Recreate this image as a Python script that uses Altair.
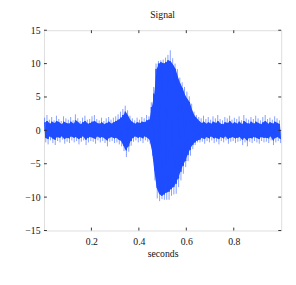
import altair as alt
import pandas as pd

# bin centres (seconds) of the read-off envelope, 10 ms apart
seconds = [round(0.005 + 0.01 * i, 3) for i in range(100)]

# solid core of the trace (upper / lower edge per bin)
core_hi = [
    1.2, 1.4, 1.0, 1.3, 1.1, 1.4, 1.2, 0.9, 1.3, 1.1,
    1.0, 1.3, 1.0, 1.5, 1.2, 0.9, 1.2, 1.4, 1.0, 1.1,
    1.3, 1.4, 1.1, 1.0, 1.2, 0.9, 1.1, 1.3, 1.0, 1.2,
    1.4, 1.6, 1.9, 2.3, 2.8, 2.2, 1.5, 1.2, 1.0, 1.2,
    1.1, 1.3, 1.2, 1.5, 1.6, 3.5, 5.5, 9.2, 10.0, 10.2,
    10.0, 10.2, 10.5, 10.3, 9.8, 9.2, 8.0, 7.0, 6.3, 5.3,
    4.7, 4.2, 3.0, 2.2, 1.8, 1.4, 1.1, 1.3, 1.0, 1.2,
    1.0, 1.3, 1.1, 1.4, 1.0, 0.9, 1.2, 1.1, 1.4, 1.0,
    1.2, 1.0, 1.3, 0.9, 1.4, 1.1, 1.0, 1.3, 1.0, 1.3,
    1.1, 0.9, 1.2, 1.4, 1.0, 1.2, 1.0, 1.3, 1.1, 0.9,
]
core_lo = [
    -1.1, -1.3, -0.9, -1.2, -1.4, -1.0, -1.1, -0.9, -1.3, -1.1,
    -1.2, -0.9, -1.1, -1.0, -1.3, -1.1, -0.9, -1.4, -1.1, -1.0,
    -1.1, -1.3, -0.9, -1.1, -1.0, -1.2, -1.5, -1.1, -1.0, -1.2,
    -1.1, -1.4, -1.6, -2.3, -3.0, -2.4, -1.6, -1.1, -0.9, -1.1,
    -1.0, -1.2, -0.9, -1.1, -1.4, -3.0, -6.0, -8.6, -9.5, -9.8,
    -9.6, -9.3, -9.2, -8.8, -8.5, -8.0, -7.2, -6.2, -5.3, -4.6,
    -3.7, -2.9, -2.2, -1.8, -1.5, -1.4, -1.1, -1.3, -1.0, -1.2,
    -0.9, -1.2, -1.1, -1.3, -1.0, -1.2, -0.9, -1.3, -1.1, -1.0,
    -1.2, -1.1, -1.0, -1.4, -1.1, -1.5, -1.1, -1.2, -1.0, -1.1,
    -1.3, -1.0, -1.1, -1.1, -1.2, -0.9, -1.5, -1.1, -1.0, -1.3,
]

# tips of the thin spikes (highest / lowest sample per bin)
tip_hi = [
    1.9, 2.3, 1.6, 2.0, 1.5, 2.2, 1.7, 1.4, 2.1, 1.8,
    1.6, 2.0, 1.5, 2.4, 1.8, 1.4, 1.9, 2.2, 1.6, 1.7,
    2.1, 2.3, 1.7, 1.5, 1.9, 1.4, 1.8, 2.0, 1.6, 1.9,
    2.1, 2.4, 2.8, 3.2, 3.7, 3.0, 2.2, 1.8, 1.5, 1.9,
    1.6, 2.0, 1.8, 2.3, 2.1, 4.2, 6.5, 10.0, 10.4, 10.5,
    10.6, 10.9, 11.3, 12.0, 10.8, 10.0, 9.2, 7.9, 7.2, 6.5,
    5.8, 5.1, 4.0, 2.8, 2.3, 2.0, 1.8, 2.2, 1.7, 2.0,
    1.6, 2.1, 1.8, 2.3, 1.7, 1.5, 2.0, 1.8, 2.2, 1.6,
    1.9, 1.7, 2.1, 1.5, 2.3, 1.8, 1.6, 2.0, 1.7, 2.2,
    1.8, 1.5, 2.0, 2.3, 1.7, 1.9, 1.6, 2.1, 1.8, 1.5,
]
tip_lo = [
    -1.8, -2.1, -1.5, -1.9, -2.2, -1.6, -1.8, -1.4, -2.0, -1.7,
    -1.9, -1.5, -1.8, -1.6, -2.1, -1.7, -1.5, -2.2, -1.8, -1.6,
    -1.7, -2.0, -1.5, -1.8, -1.6, -1.9, -2.4, -1.7, -1.6, -1.9,
    -1.8, -2.1, -2.4, -3.1, -4.0, -3.2, -2.3, -1.7, -1.5, -1.8,
    -1.6, -1.9, -1.5, -1.7, -2.0, -3.8, -7.5, -10.2, -10.6, -10.3,
    -10.4, -10.4, -10.4, -9.8, -9.6, -9.5, -8.5, -7.5, -6.5, -5.5,
    -4.6, -3.8, -2.8, -2.2, -1.8, -1.8, -1.7, -2.0, -1.6, -1.8,
    -1.5, -1.9, -1.7, -2.1, -1.6, -1.8, -1.5, -2.0, -1.7, -1.6,
    -1.9, -1.7, -1.6, -2.2, -1.8, -2.4, -1.7, -1.9, -1.6, -1.8,
    -2.0, -1.6, -1.8, -1.7, -1.9, -1.5, -2.2, -1.8, -1.6, -1.9,
]

x_ticks = [0.2, 0.4, 0.6, 0.8]
y_ticks = [-15, -10, -5, 0, 5, 10, 15]

core = pd.DataFrame({"t": seconds, "hi": core_hi, "lo": core_lo})
spikes = pd.DataFrame(
    [{"t": t - 0.0025, "a": 0.0, "b": h} for t, h in zip(seconds, tip_hi)]
    + [{"t": t + 0.0025, "a": 0.0, "b": l} for t, l in zip(seconds, tip_lo)]
)
zig = []
for t, h, l in zip(seconds, core_hi, core_lo):
    zig.append({"t": t - 0.0025, "v": h})
    zig.append({"t": t + 0.0025, "v": l})
zig = pd.DataFrame(zig)

W, H = 244, 206
FONT = "Liberation Serif"
FRAME = "#333333"
BLUE = "#1f4dff"

xscale = alt.Scale(domain=[0, 1], nice=False, zero=False)
yscale = alt.Scale(domain=[-15, 15], nice=False, zero=False)

xaxis = alt.Axis(values=x_ticks, format=".1f", ticks=False, domain=False, grid=False,
                 labelFont=FONT, labelFontSize=10, labelColor="#111", labelPadding=6,
                 title="seconds", titleFont=FONT, titleFontSize=10,
                 titleFontWeight="normal", titleColor="#111", titlePadding=3)
yaxis = alt.Axis(values=y_ticks, ticks=False, domain=False, grid=False,
                 labelFont=FONT, labelFontSize=10, labelColor="#111", labelPadding=4,
                 title=None)

spike = alt.Chart(spikes).mark_rule(color=BLUE, opacity=0.55, strokeWidth=1, clip=True).encode(
    x=alt.X("t:Q", scale=xscale, axis=xaxis),
    y=alt.Y("a:Q", scale=yscale, axis=yaxis),
    y2="b:Q",
)

band = alt.Chart(core).mark_area(color=BLUE, opacity=1, clip=True).encode(
    x=alt.X("t:Q", scale=xscale, axis=xaxis),
    y=alt.Y("lo:Q", scale=yscale, axis=yaxis),
    y2="hi:Q",
)

line = alt.Chart(zig).mark_line(color=BLUE, strokeWidth=1, clip=True).encode(
    x=alt.X("t:Q", scale=xscale, axis=xaxis),
    y=alt.Y("v:Q", scale=yscale, axis=yaxis),
)

dfx = pd.DataFrame({"t": x_ticks})
dfy = pd.DataFrame({"v": y_ticks})

bx = alt.Chart(dfx).mark_rule(color=FRAME).encode(
    x=alt.X("t:Q", scale=xscale, axis=xaxis), y=alt.value(H), y2=alt.value(H - 3))
tx = alt.Chart(dfx).mark_rule(color=FRAME).encode(
    x=alt.X("t:Q", scale=xscale, axis=xaxis), y=alt.value(0), y2=alt.value(3))
ly = alt.Chart(dfy).mark_rule(color=FRAME).encode(
    y=alt.Y("v:Q", scale=yscale, axis=yaxis), x=alt.value(0), x2=alt.value(3))
ry = alt.Chart(dfy).mark_rule(color=FRAME).encode(
    y=alt.Y("v:Q", scale=yscale, axis=yaxis), x=alt.value(W), x2=alt.value(W - 3))

chart = alt.layer(spike, band, line, bx, tx, ly, ry).properties(
    width=W, height=H,
    title=alt.Title("Signal", font=FONT, fontSize=10, fontWeight="normal", color="#111", offset=6),
    autosize=alt.AutoSizeParams(type="none"),
    padding={"left": 37, "top": 19, "right": 7, "bottom": 45},
).configure_view(stroke=FRAME, strokeWidth=1).configure(background="white")

chart.save("out.html", embed_options={"renderer": "svg", "actions": False})
